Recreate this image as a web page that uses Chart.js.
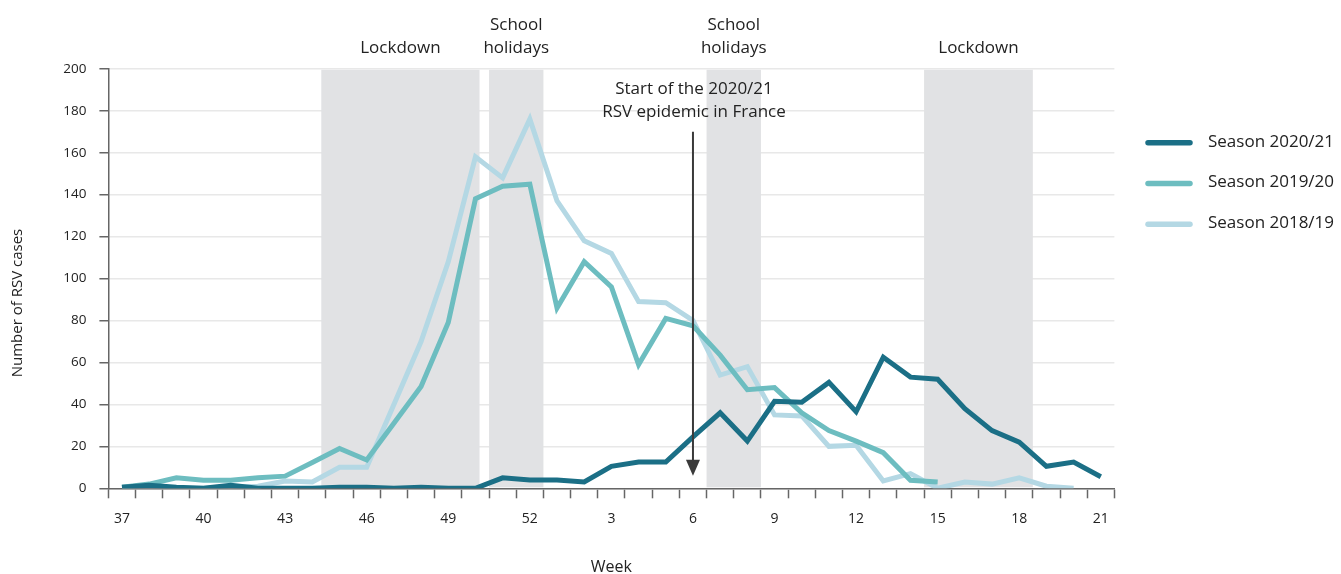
<!DOCTYPE html>
<html>
<head>
<meta charset="utf-8">
<script src="https://cdn.jsdelivr.net/npm/chart.js@4.4.1/dist/chart.umd.min.js"></script>
<style>
  html, body { margin: 0; padding: 0; background: #fff; }
  #wrap { width: 1341px; height: 574px; }
</style>
</head>
<body>
<div id="wrap"><canvas id="chart" width="1341" height="574"></canvas></div>
<script>
// Weeks of the season, 37 (autumn) to 21 (spring)
const weeks = ['37','38','39','40','41','42','43','44','45','46','47','48','49','50','51','52',
  '1','2','3','4','5','6','7','8','9','10','11','12','13','14','15','16','17','18','19','20','21'];
const labelledWeeks = ['37','40','43','46','49','52','3','6','9','12','15','18','21'];

// Number of RSV cases per week
const season2021 = [0.5, 1.5, 0.5, 0, 1.5, 0, 0, 0, 0.5, 0.5, 0, 0.5, 0, 0, 5, 4,
  4, 3, 10.5, 12.5, 12.5, 24.5, 36, 22.5, 41.5, 41, 50.5, 36.5, 62.5, 53, 52, 38, 27.5, 22, 10.5, 12.5, 5.5];
const season1920 = [0.5, 2, 5, 3.8, 3.8, 5, 5.8, 12.3, 19, 13.5, 31, 48.5, 79, 138, 144, 145,
  86, 108, 96, 59, 81, 77.5, 63.5, 47, 48, 36, 27.5, 22.5, 17, 3.8, 3, null, null, null, null, null, null];
const season1819 = [0, 0, 0, 0, 0.5, 1, 3.5, 3, 10, 10, 40, 70, 108, 158, 148, 176,
  137, 118, 112, 89, 88.5, 80, 54, 58, 35, 34.5, 20, 20.5, 3.5, 7, 0, 3, 2, 5, 1, 0, null];

// Lockdowns and school holidays, in week-index units (category centre = index)
const periodNames = [['Lockdown'], ['School', 'holidays'], ['School', 'holidays'], ['Lockdown']];
const periodFrom = [7.33, 13.5, 21.5, 29.5];
const periodTo = [13.15, 15.5, 23.5, 33.5];

// Start of the 2020/21 epidemic
const epidemicWeek = '6';
const epidemicText = ['Start of the 2020/21', 'RSV epidemic in France'];
const arrowFrom = 170;
const arrowTo = 6;

const colours = ['#1b6f86', '#6dbdc0', '#b4d8e4'];
const font = '"Open Sans", "Noto Sans", sans-serif';

const extras = {
  id: 'extras',
  beforeDatasetsDraw(chart) {
    const { ctx, chartArea, scales: { x } } = chart;
    ctx.save();
    ctx.fillStyle = '#e1e2e4';
    periodFrom.forEach((from, i) => {
      const x0 = x.getPixelForValue(from);
      const x1 = x.getPixelForValue(periodTo[i]);
      ctx.fillRect(x0, chartArea.top + 1, x1 - x0, chartArea.bottom - chartArea.top - 2);
    });
    ctx.restore();
  },
  afterDraw(chart) {
    const { ctx, scales: { x, y } } = chart;
    ctx.save();
    ctx.fillStyle = '#222';
    ctx.font = '17px ' + font;
    ctx.textAlign = 'center';
    ctx.textBaseline = 'alphabetic';

    // period labels above the plot
    periodFrom.forEach((from, i) => {
      const cx = x.getPixelForValue((from + periodTo[i]) / 2);
      const lines = periodNames[i];
      lines.forEach((t, j) => {
        ctx.fillText(t, cx, 53 - (lines.length - 1 - j) * 23);
      });
    });

    // arrow for the start of the epidemic
    const ax = x.getPixelForValue(weeks.indexOf(epidemicWeek));
    epidemicText.forEach((t, j) => ctx.fillText(t, ax + 1, 94 + j * 23));
    const yTop = y.getPixelForValue(arrowFrom);
    const yTip = y.getPixelForValue(arrowTo);
    ctx.strokeStyle = '#3a3a3a';
    ctx.fillStyle = '#3a3a3a';
    ctx.lineWidth = 2;
    ctx.beginPath();
    ctx.moveTo(ax, yTop);
    ctx.lineTo(ax, yTip - 14);
    ctx.stroke();
    ctx.beginPath();
    ctx.moveTo(ax - 7, yTip - 16);
    ctx.lineTo(ax + 7, yTip - 16);
    ctx.lineTo(ax, yTip);
    ctx.closePath();
    ctx.fill();

    // y axis title
    ctx.fillStyle = '#222';
    ctx.font = '15px ' + font;
    ctx.translate(18, 303);
    ctx.rotate(-Math.PI / 2);
    ctx.textBaseline = 'middle';
    ctx.fillText('Number of RSV cases', 0, 0);
    ctx.setTransform(1, 0, 0, 1, 0, 0);

    // legend
    ctx.font = '17px ' + font;
    ctx.textAlign = 'left';
    ctx.textBaseline = 'middle';
    ctx.lineCap = 'round';
    chart.data.datasets.forEach((ds, i) => {
      const ly = 142.7 + i * 40.8;
      ctx.strokeStyle = ds.borderColor;
      ctx.lineWidth = 5.5;
      ctx.beginPath();
      ctx.moveTo(1148, ly);
      ctx.lineTo(1190, ly);
      ctx.stroke();
      ctx.fillStyle = '#222';
      ctx.fillText(ds.label, 1208, ly - 1);
    });
    ctx.restore();
  }
};

new Chart(document.getElementById('chart'), {
  type: 'line',
  data: {
    labels: weeks,
    datasets: [
      { label: 'Season 2020/21', data: season2021, borderColor: colours[0] },
      { label: 'Season 2019/20', data: season1920, borderColor: colours[1] },
      { label: 'Season 2018/19', data: season1819, borderColor: colours[2] }
    ]
  },
  options: {
    responsive: false,
    animation: false,
    devicePixelRatio: 1,
    layout: { padding: { top: 68.8, right: 226.6, bottom: 0, left: 0 } },
    elements: {
      line: { borderWidth: 5, tension: 0, borderJoinStyle: 'miter', borderCapStyle: 'butt' },
      point: { radius: 0, hoverRadius: 0 }
    },
    plugins: { legend: { display: false }, tooltip: { enabled: false } },
    scales: {
      x: {
        type: 'category',
        offset: true,
        afterFit: s => { s.height = 85.7; },
        grid: { offset: true, drawOnChartArea: false, tickLength: 10, tickColor: '#666', tickWidth: 1.5 },
        border: { color: '#666', width: 1.5 },
        ticks: {
          autoSkip: false,
          maxRotation: 0,
          padding: 12,
          color: '#222',
          font: { family: font, size: 14 },
          callback: (v, i) => labelledWeeks.includes(weeks[i]) ? weeks[i] : ''
        },
        title: { display: true, text: 'Week', color: '#222', font: { family: font, size: 16 }, padding: { top: 0, bottom: -3 } }
      },
      y: {
        min: 0,
        max: 200,
        afterFit: s => { s.width = 108.4; },
        grid: { color: '#e8e8e8', lineWidth: 1.5, tickLength: 9, tickColor: '#666', tickWidth: 1.5 },
        border: { color: '#666', width: 1.5 },
        ticks: { stepSize: 20, padding: 13, color: '#222', font: { family: font, size: 13.5 } }
      }
    }
  },
  plugins: [extras]
});
</script>
</body>
</html>
